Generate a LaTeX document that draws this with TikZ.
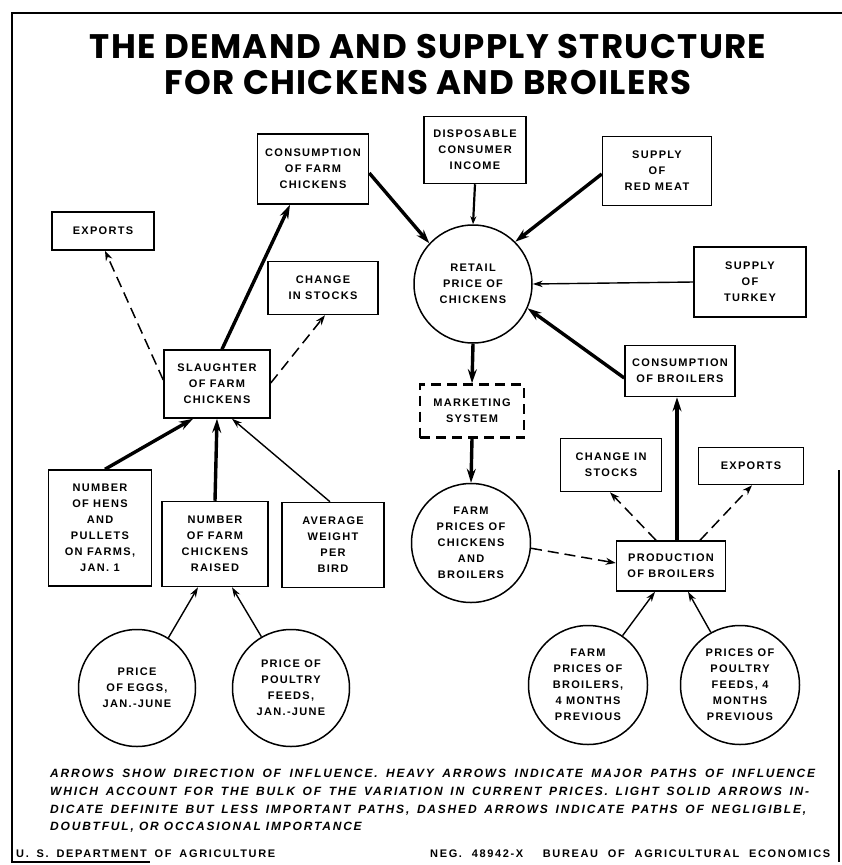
\documentclass[tikz,border=0pt]{standalone}
\usepackage{fontspec}
\usetikzlibrary{arrows.meta,calc}
\newfontfamily\labfont{Liberation Sans}[LetterSpace=12]
\newfontfamily\notefont{Liberation Sans}[LetterSpace=15]
\newfontfamily\creditfont{Liberation Sans}[LetterSpace=15]
\newfontfamily\titlefont{Poppins}[LetterSpace=4]
\begin{document}
\begin{tikzpicture}[x=1pt,y=-1pt,
  box/.style={draw, line width=1.5pt, align=center, inner sep=0pt,
    font=\labfont\bfseries\fontsize{11}{16}\selectfont},
  circ/.style={draw, circle, line width=1.5pt, align=center, inner sep=0pt,
    font=\labfont\bfseries\fontsize{11}{16}\selectfont},
  heavy/.style={line width=3.4pt, -{Stealth[length=14pt,width=9pt]}},
  light/.style={line width=1.4pt, -{Stealth[length=10pt,width=6.5pt]}},
  faint/.style={line width=1.5pt, dash pattern=on 11pt off 6pt,
    -{Stealth[length=10pt,width=7pt]}},
  frame/.style={line width=1.8pt}]
\useasboundingbox (0,0) rectangle (842,865);

% outer frame
\draw[frame] (842,13) -- (12,13) -- (12,862) -- (150,862);
\draw[frame] (839,470) -- (839,862);

% title
\node[font=\titlefont\bfseries\fontsize{34}{36}\selectfont, align=center]
  (title) at (428,65) {THE DEMAND AND SUPPLY STRUCTURE\\FOR CHICKENS AND BROILERS};

% upper part
\node[box, minimum width=111pt, minimum height=70pt] (cfc) at (313,169)
  {CONSUMPTION\\OF FARM\\CHICKENS};
\node[box, minimum width=102pt, minimum height=67pt] (dci) at (475,150)
  {DISPOSABLE\\CONSUMER\\INCOME};
\node[box, minimum width=109pt, minimum height=69pt] (srm) at (657,171)
  {SUPPLY\\OF\\RED MEAT};
\node[box, minimum width=102pt, minimum height=38pt] (exl) at (103,231)
  {EXPORTS};
\node[box, minimum width=110pt, minimum height=53pt] (csl) at (323,288)
  {CHANGE\\IN STOCKS};
\node[circ, minimum size=118pt] (rpc) at (473,284)
  {RETAIL\\PRICE OF\\CHICKENS};
\node[box, minimum width=112pt, minimum height=70pt] (sot) at (750,282)
  {SUPPLY\\OF\\TURKEY};
\node[box, minimum width=106pt, minimum height=68pt] (sfc) at (217,384)
  {SLAUGHTER\\OF FARM\\CHICKENS};
\node[box, minimum width=104pt, minimum height=53pt, line width=2.6pt,
  dash pattern=on 10pt off 6pt] (mkt) at (472,411)
  {MARKETING\\SYSTEM};
\node[box, minimum width=110pt, minimum height=51pt] (cob) at (680,371)
  {CONSUMPTION\\OF BROILERS};

% lower part
\node[box, minimum width=103pt, minimum height=116pt] (nhp) at (100,528)
  {NUMBER\\OF HENS\\AND\\PULLETS\\ON FARMS,\\JAN. 1};
\node[box, minimum width=106pt, minimum height=85pt] (nfc) at (215,544)
  {NUMBER\\OF FARM\\CHICKENS\\RAISED};
\node[box, minimum width=102pt, minimum height=85pt] (awb) at (333,545)
  {AVERAGE\\WEIGHT\\PER\\BIRD};
\node[box, minimum width=101pt, minimum height=53pt] (csr) at (611,465)
  {CHANGE IN\\STOCKS};
\node[box, minimum width=105pt, minimum height=37pt] (exr) at (751,466)
  {EXPORTS};
\node[circ, minimum size=119pt] (fpc) at (471,543)
  {FARM\\PRICES OF\\CHICKENS\\AND\\BROILERS};
\node[box, minimum width=109pt, minimum height=50pt] (pob) at (671,566)
  {PRODUCTION\\OF BROILERS};
\node[circ, minimum size=117pt] (pe) at (137,688)
  {PRICE\\OF EGGS,\\JAN.-JUNE};
\node[circ, minimum size=117pt] (ppf) at (291,688)
  {PRICE OF\\POULTRY\\FEEDS,\\JAN.-JUNE};
\node[circ, minimum size=119pt] (fpb) at (588,685)
  {FARM\\PRICES OF\\BROILERS,\\4 MONTHS\\PREVIOUS};
\node[circ, minimum size=119pt] (pfm) at (740,685)
  {PRICES OF\\POULTRY\\FEEDS, 4\\MONTHS\\PREVIOUS};

% major paths of influence
\draw[heavy] ($(sfc.north)+(5,0)$) -- ($(cfc.south)+(-23,0)$);
\draw[heavy] ($(cfc.east)+(0,4)$) -- (rpc.137);
\draw[heavy] ($(srm.west)+(0,3)$) -- (rpc.45);
\draw[heavy] ($(cob.west)+(0,7)$) -- (rpc.-24);
\draw[heavy] (rpc.south) -- (mkt.north);
\draw[heavy] (mkt.south) -- (fpc.north);
\draw[heavy] (nfc.north) -- (sfc.south);
\draw[heavy] ($(nhp.north)+(5,0)$) -- ($(sfc.south)+(-24,0)$);
\draw[heavy] ($(pob.north)+(6,0)$) -- ($(cob.south)+(-3,0)$);

% definite but less important paths
\draw[line width=2.2pt, -{Stealth[length=8pt,width=6pt,open]}] (dci.south) -- (rpc.north);
\draw[light] (sot.west) -- (rpc.east);
\draw[light] ($(awb.north)+(-3,0)$) -- ($(sfc.south)+(15,0)$);
\draw[light] (pe.58) -- ($(nfc.south)+(-17,0)$);
\draw[light] (ppf.120) -- ($(nfc.south)+(17,0)$);
\draw[light] (fpb.55) -- ($(pob.south)+(-16,0)$);
\draw[light] (pfm.119) -- ($(pob.south)+(17,0)$);

% negligible or occasional paths
\draw[faint] ($(sfc.west)+(0,-4)$) -- ($(exl.south)+(2,0)$);
\draw[faint] ($(sfc.east)+(0,-1)$) -- ($(csl.south)+(2,0)$);
\draw[faint] (fpc.-5) -- ($(pob.west)+(0,-3)$);
\draw[faint] ($(pob.north)+(-15,0)$) -- ($(csr.south)+(-1,0)$);
\draw[faint] ($(pob.north)+(29,0)$) -- ($(exr.south)+(1,0)$);

% explanatory note
\begin{scope}[every node/.style={anchor=base west, inner sep=0pt,
    font=\notefont\bfseries\itshape\fontsize{12}{13}\selectfont}]
\node (n1) at (50,777) {\makebox[765pt][s]{ARROWS SHOW DIRECTION OF INFLUENCE. HEAVY ARROWS INDICATE MAJOR PATHS OF INFLUENCE}};
\node (n2) at (50,795) {\makebox[759pt][s]{WHICH ACCOUNT FOR THE BULK OF THE VARIATION IN CURRENT PRICES. LIGHT SOLID ARROWS IN-}};
\node (n3) at (50,813) {\makebox[756pt][s]{DICATE DEFINITE BUT LESS IMPORTANT PATHS, DASHED ARROWS INDICATE PATHS OF NEGLIGIBLE,}};
\node (n4) at (50,830) {DOUBTFUL, OR OCCASIONAL IMPORTANCE};
\end{scope}

% credits
\begin{scope}[every node/.style={anchor=base west, inner sep=0pt,
    font=\creditfont\bfseries\fontsize{11}{12}\selectfont}]
\node (dept) at (16,857) {\makebox[259pt][s]{U. S. DEPARTMENT OF AGRICULTURE}};
\node (bae) at (430,857) {\makebox[400pt][s]{NEG. 48942-X \ BUREAU OF AGRICULTURAL ECONOMICS}};
\end{scope}
\end{tikzpicture}
\end{document}
